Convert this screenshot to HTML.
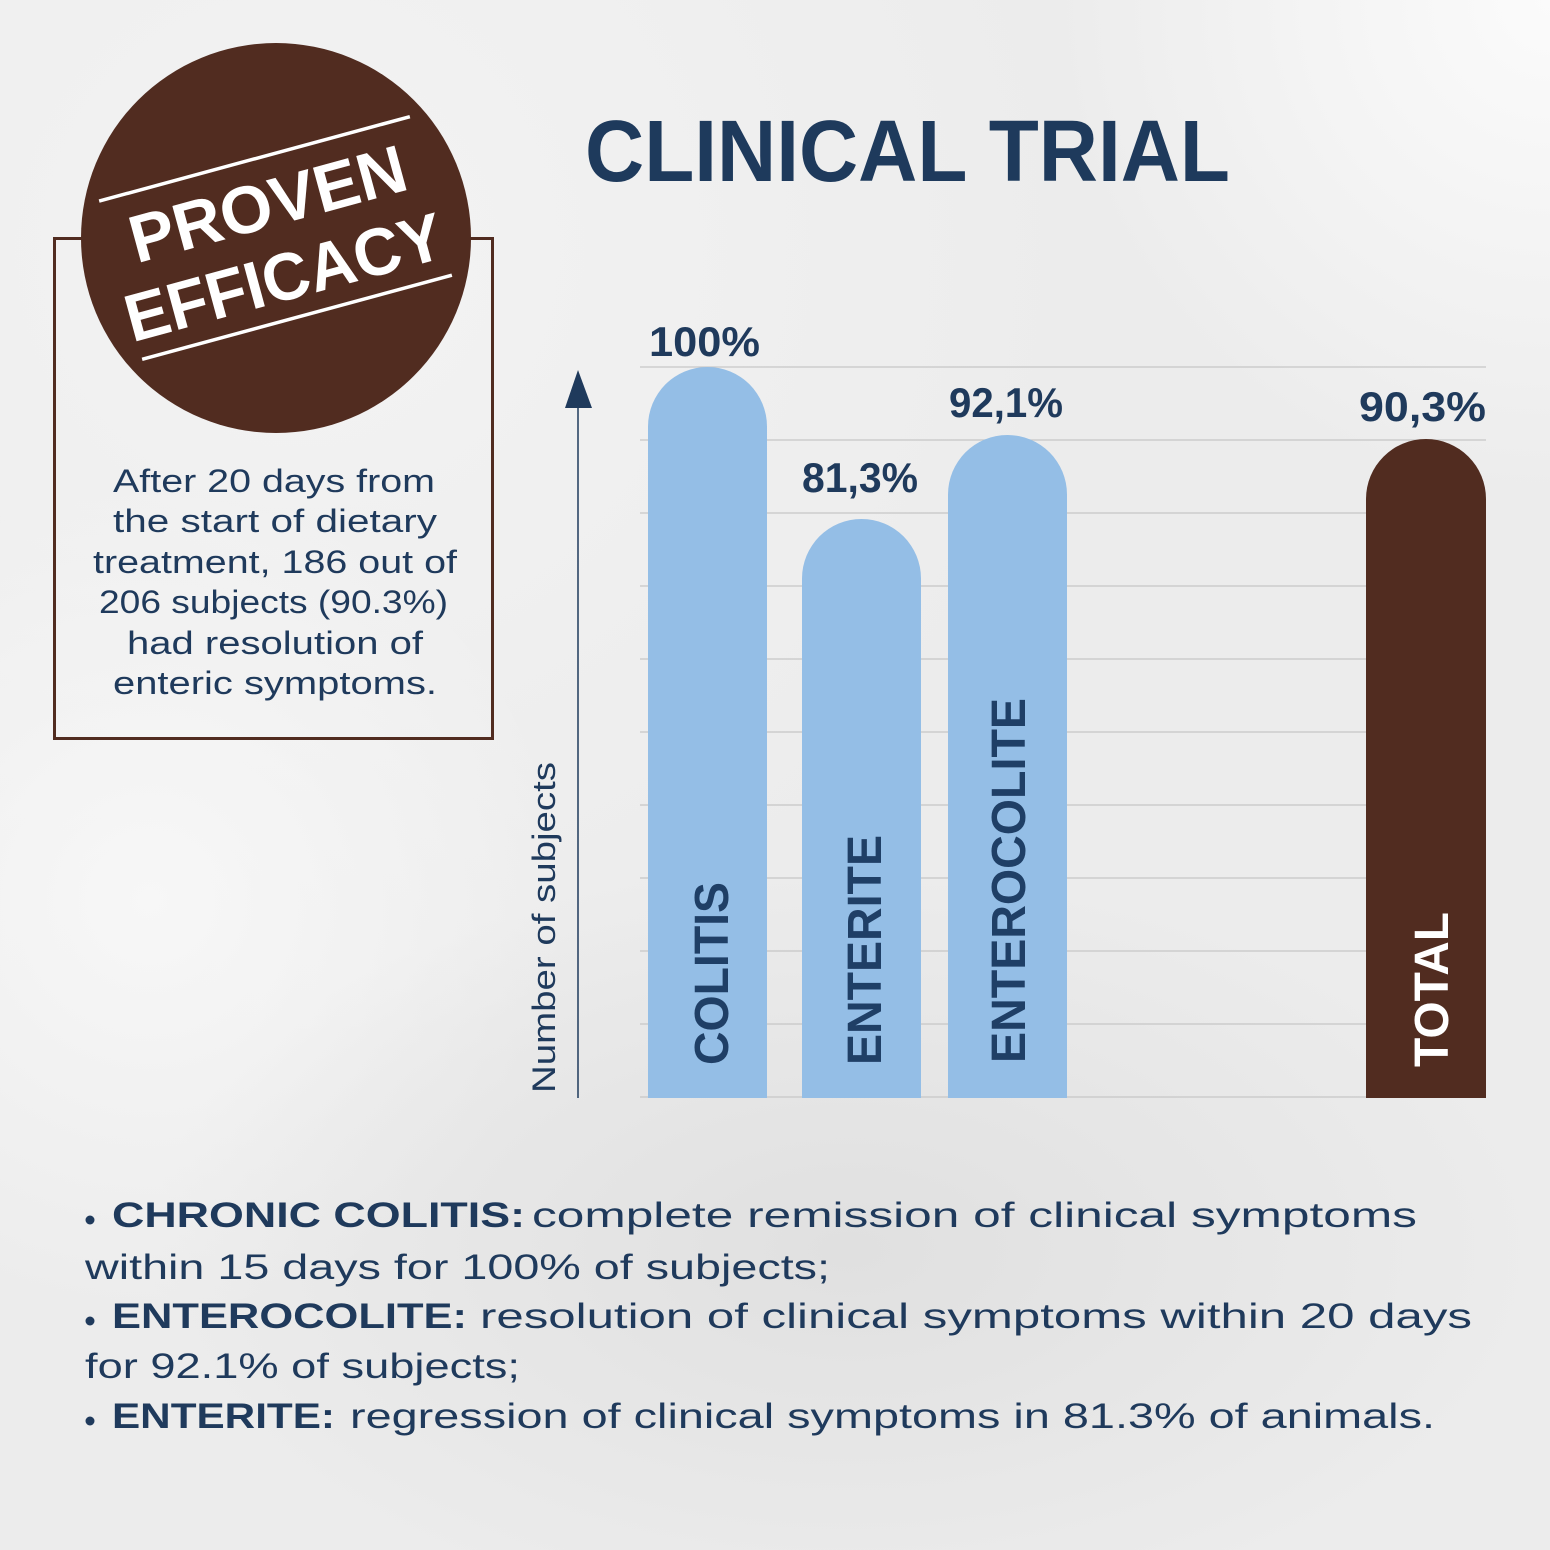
<!DOCTYPE html>
<html>
<head>
<meta charset="utf-8">
<style>
  html,body{margin:0;padding:0;}
  body{width:1550px;height:1550px;overflow:hidden;background:#eeeeee;}
  svg{display:block;}
  text{font-family:"Liberation Sans", sans-serif;}
</style>
</head>
<body>
<svg width="1550" height="1550" viewBox="0 0 1550 1550" xmlns="http://www.w3.org/2000/svg">
  <defs>
    <radialGradient id="g1" cx="300" cy="250" r="800" gradientUnits="userSpaceOnUse">
      <stop offset="0" stop-color="#f3f3f3"/>
      <stop offset="1" stop-color="#f3f3f3" stop-opacity="0"/>
    </radialGradient>
    <radialGradient id="g2" cx="150" cy="900" r="420" gradientUnits="userSpaceOnUse">
      <stop offset="0" stop-color="#f7f7f7"/>
      <stop offset="1" stop-color="#f7f7f7" stop-opacity="0"/>
    </radialGradient>
    <radialGradient id="g3" cx="850" cy="1250" r="700" gradientUnits="userSpaceOnUse" gradientTransform="translate(850 1250) scale(1 0.55) translate(-850 -1250)">
      <stop offset="0" stop-color="#e0e0e0"/>
      <stop offset="1" stop-color="#e0e0e0" stop-opacity="0"/>
    </radialGradient>
    <radialGradient id="g4" cx="1550" cy="0" r="500" gradientUnits="userSpaceOnUse">
      <stop offset="0" stop-color="#fbfbfb"/>
      <stop offset="1" stop-color="#fbfbfb" stop-opacity="0"/>
    </radialGradient>
  </defs>

  <!-- background -->
  <rect x="0" y="0" width="1550" height="1550" fill="#ececec"/>
  <rect x="0" y="0" width="1550" height="1550" fill="url(#g1)"/>
  <rect x="0" y="0" width="1550" height="1550" fill="url(#g2)"/>
  <rect x="0" y="0" width="1550" height="1550" fill="url(#g3)"/>
  <rect x="0" y="0" width="1550" height="1550" fill="url(#g4)"/>

  <!-- Title -->
  <text x="585" y="181" font-size="87" font-weight="bold" fill="#1e3a5c" textLength="645" lengthAdjust="spacingAndGlyphs">CLINICAL TRIAL</text>

  <!-- Left box -->
  <rect x="54.5" y="238.5" width="438" height="500" fill="none" stroke="#512c20" stroke-width="3"/>

  <!-- Circle badge -->
  <circle cx="276" cy="238" r="195" fill="#512c20"/>
  <g transform="rotate(-15.2 276 238)">
    <line x1="115" y1="156" x2="437" y2="156" stroke="#ffffff" stroke-width="3.5"/>
    <line x1="115" y1="320" x2="436" y2="320" stroke="#ffffff" stroke-width="3.5"/>
    <text x="135" y="226" font-size="67" font-weight="bold" fill="#ffffff" textLength="284" lengthAdjust="spacingAndGlyphs">PROVEN</text>
    <text x="110" y="301" font-size="67" font-weight="bold" fill="#ffffff" textLength="327" lengthAdjust="spacingAndGlyphs">EFFICACY</text>
  </g>

  <!-- Paragraph -->
  <g font-size="32" fill="#1f3a5c">
    <text x="113" y="492" textLength="322" lengthAdjust="spacingAndGlyphs">After 20 days from</text>
    <text x="113" y="532" textLength="324" lengthAdjust="spacingAndGlyphs">the start of dietary</text>
    <text x="93" y="573" textLength="364" lengthAdjust="spacingAndGlyphs">treatment, 186 out of</text>
    <text x="99" y="613" textLength="349" lengthAdjust="spacingAndGlyphs">206 subjects (90.3%)</text>
    <text x="127" y="654" textLength="296" lengthAdjust="spacingAndGlyphs">had resolution of</text>
    <text x="113" y="694" textLength="324" lengthAdjust="spacingAndGlyphs">enteric symptoms.</text>
  </g>

  <!-- Grid lines -->
  <g stroke="#c6c6c6" stroke-width="1.3">
    <line x1="640" y1="367" x2="1486" y2="367"/>
    <line x1="640" y1="440" x2="1486" y2="440"/>
    <line x1="640" y1="513" x2="1486" y2="513"/>
    <line x1="640" y1="586" x2="1486" y2="586"/>
    <line x1="640" y1="659" x2="1486" y2="659"/>
    <line x1="640" y1="732" x2="1486" y2="732"/>
    <line x1="640" y1="805" x2="1486" y2="805"/>
    <line x1="640" y1="878" x2="1486" y2="878"/>
    <line x1="640" y1="951" x2="1486" y2="951"/>
    <line x1="640" y1="1024" x2="1486" y2="1024"/>
    <line x1="640" y1="1097" x2="1486" y2="1097"/>
  </g>

  <!-- Axis -->
  <line x1="578" y1="405" x2="578" y2="1098" stroke="#1f3a5c" stroke-width="1.5"/>
  <polygon points="578,370 565,408 592,408" fill="#1f3a5c"/>
  <text transform="translate(555 1093) rotate(-90)" font-size="32" fill="#1f3a5c" textLength="331" lengthAdjust="spacingAndGlyphs">Number of subjects</text>

  <!-- Bars -->
  <path d="M648 1098 V426.5 A59.5 59.5 0 0 1 767 426.5 V1098 Z" fill="#94bee6"/>
  <path d="M802 1098 V578.5 A59.5 59.5 0 0 1 921 578.5 V1098 Z" fill="#94bee6"/>
  <path d="M948 1098 V494.5 A59.5 59.5 0 0 1 1067 494.5 V1098 Z" fill="#94bee6"/>
  <path d="M1366 1098 V499 A60 60 0 0 1 1486 499 V1098 Z" fill="#512c20"/>

  <!-- Bar labels (rotated) -->
  <g font-size="48" font-weight="bold">
    <text transform="translate(728 1065) rotate(-90)" fill="#1f3f66" textLength="183" lengthAdjust="spacingAndGlyphs">COLITIS</text>
    <text transform="translate(881 1065) rotate(-90)" fill="#1f3f66" textLength="230" lengthAdjust="spacingAndGlyphs">ENTERITE</text>
    <text transform="translate(1025 1063) rotate(-90)" fill="#1f3f66" textLength="365" lengthAdjust="spacingAndGlyphs">ENTEROCOLITE</text>
    <text transform="translate(1448 1067) rotate(-90)" fill="#ffffff" textLength="155" lengthAdjust="spacingAndGlyphs">TOTAL</text>
  </g>

  <!-- Value labels -->
  <g font-size="42" font-weight="bold" fill="#1f3a5c">
    <text x="649" y="356" textLength="111" lengthAdjust="spacingAndGlyphs">100%</text>
    <text x="802" y="492" textLength="116" lengthAdjust="spacingAndGlyphs">81,3%</text>
    <text x="949" y="417" textLength="114" lengthAdjust="spacingAndGlyphs">92,1%</text>
    <text x="1359" y="421" textLength="127" lengthAdjust="spacingAndGlyphs">90,3%</text>
  </g>

  <!-- Bottom bullet text -->
  <g font-size="35" fill="#1f3a5c">
    <circle cx="90" cy="1220" r="4.5" fill="#1f3a5c"/>
    <text x="112" y="1227" font-weight="bold" textLength="413" lengthAdjust="spacingAndGlyphs">CHRONIC COLITIS:</text>
    <text x="532" y="1227" textLength="885" lengthAdjust="spacingAndGlyphs">complete remission of clinical symptoms</text>

    <text x="85" y="1279" textLength="745" lengthAdjust="spacingAndGlyphs">within 15 days for 100% of subjects;</text>

    <circle cx="90" cy="1321" r="4.5" fill="#1f3a5c"/>
    <text x="112" y="1328" font-weight="bold" textLength="355" lengthAdjust="spacingAndGlyphs">ENTEROCOLITE:</text>
    <text x="480" y="1328" textLength="992" lengthAdjust="spacingAndGlyphs">resolution of clinical symptoms within 20 days</text>

    <text x="85" y="1378" textLength="435" lengthAdjust="spacingAndGlyphs">for 92.1% of subjects;</text>

    <circle cx="90" cy="1421" r="4.5" fill="#1f3a5c"/>
    <text x="112" y="1428" font-weight="bold" textLength="223" lengthAdjust="spacingAndGlyphs">ENTERITE:</text>
    <text x="350" y="1428" textLength="1085" lengthAdjust="spacingAndGlyphs">regression of clinical symptoms in 81.3% of animals.</text>
  </g>
</svg>
</body>
</html>
